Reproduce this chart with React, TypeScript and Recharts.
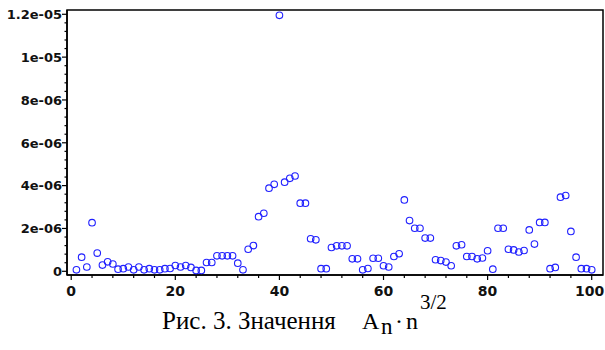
import { ScatterChart, Scatter, XAxis, YAxis, ReferenceArea } from 'recharts'

// A_n * n^(3/2), in units of 1e-6, for n = 1..100
const AN_E6 = [
  0.07, 0.66, 0.2, 2.27, 0.85, 0.29, 0.44, 0.34, 0.1, 0.12,
  0.2, 0.07, 0.2, 0.07, 0.12, 0.07, 0.07, 0.12, 0.13, 0.27,
  0.2, 0.27, 0.18, 0.04, 0.04, 0.41, 0.41, 0.72, 0.72, 0.72,
  0.72, 0.38, 0.07, 1.03, 1.2, 2.55, 2.71, 3.88, 4.06, 11.95,
  4.16, 4.34, 4.45, 3.18, 3.18, 1.52, 1.47, 0.12, 0.12, 1.11,
  1.19, 1.19, 1.19, 0.58, 0.58, 0.07, 0.13, 0.61, 0.61, 0.26,
  0.2, 0.69, 0.82, 3.33, 2.37, 2.01, 2.01, 1.55, 1.55, 0.54,
  0.5, 0.43, 0.26, 1.19, 1.24, 0.69, 0.69, 0.58, 0.62, 0.96,
  0.1, 2.01, 2.01, 1.03, 1.0, 0.9, 0.97, 1.93, 1.27, 2.28,
  2.28, 0.12, 0.18, 3.46, 3.54, 1.86, 0.66, 0.12, 0.12, 0.07,
]

const X_TICKS = [0, 4, 8, 12, 16, 20, 24, 28, 32, 36, 40, 44, 48, 52, 56, 60, 64, 68, 72, 76, 80, 84, 88, 92, 96, 100]
const X_LABELS = ['0', '20', '40', '60', '80', '100']
const Y_LABELS = ['0', '2e-06', '4e-06', '6e-06', '8e-06', '1e-05', '1.2e-05']
const Y_MINOR = 0.4e-6

const X_DOMAIN: [number, number] = [-0.81, 102.17]
const Y_DOMAIN: [number, number] = [-0.173e-6, 12.2e-6]

const data = AN_E6.map((v, i) => ({ n: i + 1, value: v * 1e-6 }))
const yTicks = Array.from({ length: 31 }, (_, k) => k * Y_MINOR)

const BLUE = '#2020ff'
const SANS = 'DejaVu Sans'
const SERIF = 'Liberation Serif'

function XTick({ x, y, payload }: any) {
  const v = payload.value as number
  const major = v % 20 === 0
  return (
    <g>
      <line x1={x} x2={x} y1={y} y2={y + (major ? 5 : 3)} stroke="#000" strokeWidth={1.2} />
      {major && (
        <text
          x={v === 100 ? x - 2 : x}
          y={y + 21}
          textAnchor="middle"
          fontFamily={SANS}
          fontWeight="bold"
          fontSize={14}
          fill="#111"
        >
          {X_LABELS[v / 20]}
        </text>
      )}
    </g>
  )
}

function YTick({ x, y, payload }: any) {
  const k = Math.round(payload.value / Y_MINOR)
  const major = k % 5 === 0
  return (
    <g>
      <line x1={x - (major ? 5 : 2.5)} x2={x} y1={y} y2={y} stroke="#000" strokeWidth={1.2} />
      {major && (
        <text x={x - 5} y={y + 4.8} textAnchor="end" fontFamily={SANS} fontWeight="bold" fontSize={13} fill="#111">
          {Y_LABELS[k / 5]}
        </text>
      )}
    </g>
  )
}

function Ring(props: any) {
  const { cx, cy } = props
  return <circle cx={cx} cy={cy} r={3.3} fill="none" stroke={BLUE} strokeWidth={1.1} />
}

export default function App() {
  return (
    <div style={{ position: 'absolute', left: 0, top: 0, width: 605, height: 350, background: '#fff' }}>
      <ScatterChart width={605} height={350} margin={{ top: 10, right: 2, bottom: 0, left: 0 }}>
        <XAxis
          type="number"
          dataKey="n"
          domain={X_DOMAIN}
          allowDataOverflow
          ticks={X_TICKS}
          interval={0}
          tick={<XTick />}
          tickLine={false}
          tickSize={0}
          tickMargin={0}
          height={75}
          axisLine={{ stroke: '#000', strokeWidth: 1.5 }}
        />
        <YAxis
          type="number"
          dataKey="value"
          domain={Y_DOMAIN}
          allowDataOverflow
          ticks={yTicks}
          interval={0}
          tick={<YTick />}
          tickLine={false}
          tickSize={0}
          tickMargin={0}
          width={67}
          axisLine={{ stroke: '#000', strokeWidth: 1.5 }}
        />
        <ReferenceArea
          x1={X_DOMAIN[0]}
          x2={X_DOMAIN[1]}
          y1={Y_DOMAIN[0]}
          y2={Y_DOMAIN[1]}
          fill="none"
          stroke="#000"
          strokeWidth={1.5}
          ifOverflow="visible"
        />
        <Scatter data={data} shape={<Ring />} isAnimationActive={false} />
      </ScatterChart>
      <svg width={605} height={350} style={{ position: 'absolute', left: 0, top: 0, pointerEvents: 'none' }}>
        <g fontFamily={SERIF} fill="#000">
          <text x={162} y={329} fontSize={25}>Рис. 3. Значення</text>
          <text x={362} y={329} fontSize={24}>A</text>
          <text x={381} y={334} fontSize={23}>n</text>
          <text x={395} y={329} fontSize={24}>·</text>
          <text x={406} y={329} fontSize={24}>n</text>
          <text x={420} y={309} fontSize={21}>3/2</text>
        </g>
      </svg>
    </div>
  )
}
